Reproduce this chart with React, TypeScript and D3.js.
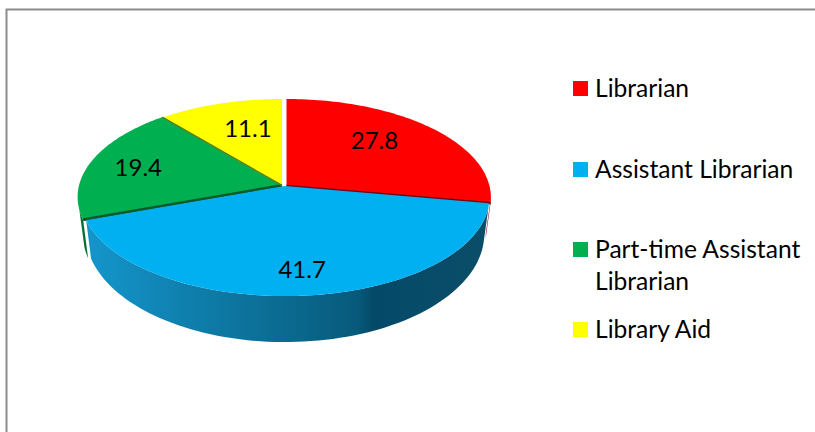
import React from "react";
import * as d3 from "d3";

const categories = ["Librarian", "Assistant Librarian", "Part-time Assistant Librarian", "Library Aid"];
const values = [27.8, 41.7, 19.4, 11.1];
const valueLabels = ["27.8", "41.7", "19.4", "11.1"];
const colors = ["#ff0000", "#00b0f0", "#00b050", "#ffff00"];
const wallColors = ["#7a0f1e", "#0a6a90", "#0a6e33", "#999900"];
const edgeColors = ["#6a0a18", "none", "#0c5a2a", "none"];
const legendLines = [["Librarian"], ["Assistant Librarian"], ["Part-time Assistant", "Librarian"], ["Library Aid"]];
const legendY = [88, 169, 249, 329];
const sliceShift: [number, number][] = [[1.5, 0], [0, 0], [-3, -0.5], [-3, 0]];
const labelShift: [number, number][] = [[-21, -2], [3, 3], [-3, -1], [11, 5]];

const W = 815, H = 432;
const cx = 285, cy = 186;
const bx = 203, by = 97.2, persp = 0.1168;

const project = (a: number, r = 1, sx = 1, sy = 1, dy = 0): [number, number] => {
  const w = 1 + persp * Math.cos(a) * r;
  return [cx + (bx * sx * r * Math.sin(a)) / w, cy + dy - (by * sy * r * Math.cos(a)) / w];
};

const pie = d3.pie<number>().sort(null).value((d) => d);
const arcs = pie(values);
const line = d3.line();

const rim = (a0: number, a1: number, sx = 1, sy = 1, dy = 0) => {
  const t = d3.scaleLinear().domain([0, 80]).range([a0, a1]);
  return d3.range(81).map((i) => project(t(i), 1, sx, sy, dy));
};

const topPath = (a0: number, a1: number) => line([project(0, 0), ...rim(a0, a1)]) + "Z";
const wallPath = (a0: number, a1: number) =>
  line([...rim(a0, a1), ...rim(a0, a1, 0.975, 1.1, 35).reverse()]) + "Z";

export default function App() {
  const red = arcs[0], blue = arcs[1], green = arcs[2], yellow = arcs[3];
  const shift = (i: number) => `translate(${sliceShift[i][0]},${sliceShift[i][1]})`;
  const edge = (a: number) => line([project(0, 0), project(a)]) as string;
  return (
    <svg width={W} height={H} style={{ position: "absolute", left: 0, top: 0, background: "#fff" }}
      fontFamily="Lato, 'Open Sans', sans-serif">
      <defs>
        <linearGradient id="side" gradientUnits="userSpaceOnUse" x1={85} x2={485} y1={0} y2={0}>
          <stop offset="0" stopColor="#1496cc" />
          <stop offset="0.25" stopColor="#0f80ae" />
          <stop offset="0.5" stopColor="#0b6a90" />
          <stop offset="0.68" stopColor="#075a7c" />
          <stop offset="0.72" stopColor="#044a68" />
          <stop offset="1" stopColor="#0a4d69" />
        </linearGradient>
      </defs>
      <path d={`M6.5 432V9.5H815`} fill="none" stroke="#8c8c8c" strokeWidth={2} />

      {/* walls of the slices that sit behind the large front slice */}
      <g transform={shift(2)}>
        <path d={wallPath(blue.endAngle, blue.endAngle + 0.1)} fill={wallColors[2]} />
      </g>
      <g transform={shift(0)}>
        <path d={wallPath(red.endAngle - 0.06, red.endAngle)} fill={wallColors[0]} />
      </g>

      {[green, red, yellow].map((s) => (
        <g key={s.index} transform={shift(s.index)}>
          <path d={topPath(s.startAngle, s.endAngle)} fill={colors[s.index]} />
        </g>
      ))}
      <g transform={shift(0)}>
        <path d={edge(red.endAngle)} stroke={edgeColors[0]} strokeWidth={2.5} fill="none" />
      </g>
      <g transform={shift(2)}>
        <path d={edge(green.startAngle)} stroke={edgeColors[2]} strokeWidth={3} fill="none" />
        <path d={edge(green.endAngle)} stroke="#4f7d1f" strokeWidth={1.5} fill="none" />
      </g>

      <path d={wallPath(blue.startAngle, blue.endAngle)} fill="url(#side)" />
      <path d={topPath(blue.startAngle, blue.endAngle)} fill={colors[1]} />

      {arcs.map((s) => {
        const [x, y] = project((s.startAngle + s.endAngle) / 2, 0.75);
        return (
          <text key={s.index} x={x + labelShift[s.index][0]} y={y + labelShift[s.index][1]}
            textAnchor="middle" dominantBaseline="central" fontSize={24} fill="#000">
            {valueLabels[s.index]}
          </text>
        );
      })}

      {categories.map((c, i) => (
        <g key={c}>
          <rect x={573} y={legendY[i] - 7} width={15} height={15} fill={colors[i]} />
          {legendLines[i].map((l, j) => (
            <text key={l} x={595} y={legendY[i] + 8.5 + j * 32} fontSize={24.6} fill="#000">
              {l}
            </text>
          ))}
        </g>
      ))}
    </svg>
  );
}
